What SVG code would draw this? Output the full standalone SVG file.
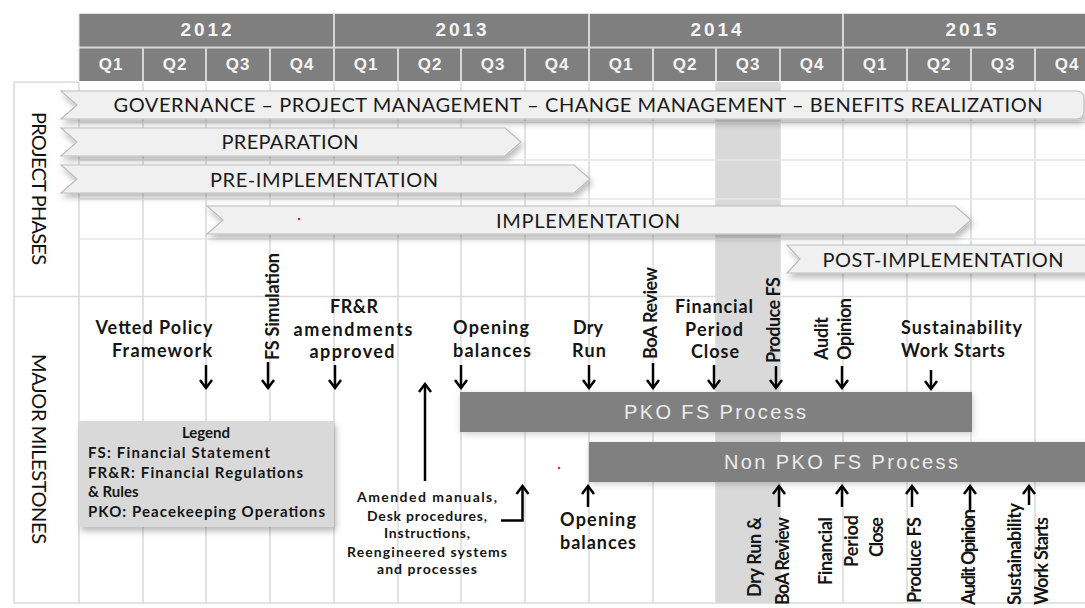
<svg xmlns="http://www.w3.org/2000/svg" width="1085" height="608" viewBox="0 0 1085 608">
  <defs>
    <style>
      .hdr { fill: #7f7f7f; }
      .hsep { stroke: #d6d6d6; stroke-width: 2; }
      .htxt { font-family: "Liberation Sans", Arial, sans-serif; font-weight: bold; fill: #f4f4f4; text-anchor: middle; }
      .grid { stroke: #dadada; stroke-width: 1.5; fill: none; }
      .bar { fill: #f0f0f0; stroke: #bdbdbd; stroke-width: 1.2; filter: url(#shadow); }
      .btxt { font-family: Lato, "Liberation Sans", sans-serif; font-size: 20px; fill: #1a1a1a; text-anchor: middle; }
      .side { font-family: Lato, "Liberation Sans", sans-serif; font-size: 20px; fill: #111; }
      .ms { font-family: Lato, "Liberation Sans", sans-serif; font-weight: bold; font-size: 18px; fill: #151515; text-anchor: middle; }
      .msl { text-anchor: start; }
      .proc { fill: #808080; filter: url(#shadow2); }
      .ptxt { font-family: "Liberation Sans", Arial, sans-serif; font-size: 20px; fill: #ececec; text-anchor: middle; }
      .arrow { stroke: #000; stroke-width: 2.5; fill: none; marker-end: url(#head); }
      .legend { fill: #d9d9d9; filter: url(#shadow); }
      .ltxt { font-family: Lato, "Liberation Sans", sans-serif; font-weight: bold; font-size: 15px; fill: #151515; }
    </style>
    <filter id="shadow" x="-5%" y="-30%" width="110%" height="170%">
      <feDropShadow dx="2" dy="4" stdDeviation="3" flood-color="#000" flood-opacity="0.28"/>
    </filter>
    <filter id="shadow2" x="-5%" y="-30%" width="110%" height="170%">
      <feDropShadow dx="1" dy="2" stdDeviation="3" flood-color="#000" flood-opacity="0.2"/>
    </filter>
    <marker id="head" viewBox="-10 -8 12 16" refX="0" refY="0" markerWidth="12" markerHeight="16" markerUnits="userSpaceOnUse" orient="auto">
      <path d="M-8,-6 L0,0 L-8,6" fill="none" stroke="#000" stroke-width="2.5" stroke-linejoin="miter"/>
    </marker>
  </defs>

  <rect x="0" y="0" width="1085" height="608" fill="#fff"/>

  <!-- highlighted quarter column (Q3 2014) -->
  <rect x="716" y="82" width="64" height="521" fill="#d9d9d9"/>

  <!-- grid -->
  <g id="grid" class="grid">
    <path d="M14,82 V603 H1085 M14,82 H79 M14,296.5 H1085"/>
    <path d="M79,82 V603 M143,82 V603 M206,82 V603 M270,82 V603 M334,82 V603 M398,82 V603 M461,82 V603 M525,82 V603 M589,82 V603 M653,82 V603 M716,82 V603 M780,82 V603 M843,82 V603 M907,82 V603 M971,82 V603 M1035,82 V603"/>
    <path d="M79,122.5 H1085 M79,160 H1085 M79,199 H1085 M79,239 H1085" stroke="#e6e6e6"/>
  </g>

  <!-- timeline header -->
  <g id="header">
    <rect class="hdr" x="79" y="14" width="1006" height="33"/>
    <rect class="hdr" x="79" y="48" width="1006" height="33"/>
    <path class="hsep" d="M79,47.5 H1085 M334,14 V81 M589,14 V81 M843,14 V81 M143,48 V81 M206,48 V81 M270,48 V81 M398,48 V81 M461,48 V81 M525,48 V81 M653,48 V81 M716,48 V81 M780,48 V81 M907,48 V81 M971,48 V81 M1035,48 V81"/>
    <path d="M79,13.5 H1085 M79,13.5 V81" stroke="#e0e0e0" stroke-width="1"/>
    <g class="htxt" font-size="19">
      <text x="206" y="36" textLength="51">2012</text>
      <text x="461" y="36" textLength="51">2013</text>
      <text x="716" y="36" textLength="51">2014</text>
      <text x="971" y="36" textLength="51">2015</text>
    </g>
    <g class="htxt" font-size="17" letter-spacing="1">
      <text x="111" y="70">Q1</text>
      <text x="175" y="70">Q2</text>
      <text x="238" y="70">Q3</text>
      <text x="302" y="70">Q4</text>
      <text x="366" y="70">Q1</text>
      <text x="430" y="70">Q2</text>
      <text x="493" y="70">Q3</text>
      <text x="557" y="70">Q4</text>
      <text x="621" y="70">Q1</text>
      <text x="685" y="70">Q2</text>
      <text x="748" y="70">Q3</text>
      <text x="812" y="70">Q4</text>
      <text x="875" y="70">Q1</text>
      <text x="939" y="70">Q2</text>
      <text x="1003" y="70">Q3</text>
      <text x="1067" y="70">Q4</text>
    </g>
  </g>

  <!-- section labels -->
  <g id="section-labels" class="side">
    <text transform="translate(32,112) rotate(90)" textLength="153">PROJECT PHASES</text>
    <text transform="translate(32,354) rotate(90)" textLength="190">MAJOR MILESTONES</text>
  </g>

  <!-- project phases -->
  <g id="phase-governance">
    <path class="bar" d="M61,91 H1076 Q1084,91 1084,99 V111 Q1084,119 1076,119 H61 L77,105 Z"/>
    <text class="btxt" x="578" y="112" textLength="929">GOVERNANCE – PROJECT MANAGEMENT – CHANGE MANAGEMENT – BENEFITS REALIZATION</text>
  </g>
  <g id="phase-preparation">
    <path class="bar" d="M61,128 H505 L521,142 L505,156 H61 L77,142 Z"/>
    <text class="btxt" x="290" y="149" textLength="137">PREPARATION</text>
  </g>
  <g id="phase-pre-implementation">
    <path class="bar" d="M61,165 H574 L590,179 L574,193 H61 L77,179 Z"/>
    <text class="btxt" x="324" y="187" textLength="228">PRE-IMPLEMENTATION</text>
  </g>
  <g id="phase-implementation">
    <path class="bar" d="M207,206 H955 L971,220 L955,234 H207 L223,220 Z"/>
    <text class="btxt" x="588" y="228" textLength="184">IMPLEMENTATION</text>
    <circle cx="299" cy="219" r="1.3" fill="#e03030"/>
  </g>
  <g id="phase-post-implementation">
    <path class="bar" d="M787,245 H1095 V273 H787 L800,259 Z"/>
    <text class="btxt" x="943" y="267" textLength="241">POST-IMPLEMENTATION</text>
  </g>

  <!-- process bands -->
  <g id="pko-fs-process">
    <rect class="proc" x="460" y="392" width="512" height="40"/>
    <text class="ptxt" x="715" y="419" textLength="182">PKO FS Process</text>
  </g>
  <g id="non-pko-fs-process">
    <rect class="proc" x="589" y="442" width="500" height="40"/>
    <text class="ptxt" x="841" y="469" textLength="234">Non PKO FS Process</text>
  </g>

  <!-- legend -->
  <g id="legend">
    <rect class="legend" x="79" y="421" width="255" height="106"/>
    <text class="ltxt" x="206" y="438" font-size="12" text-anchor="middle" textLength="48">Legend</text>
    <text class="ltxt" x="88" y="458" textLength="182">FS: Financial Statement</text>
    <text class="ltxt" x="88" y="478" textLength="215">FR&amp;R: Financial Regulations</text>
    <text class="ltxt" x="88" y="497">&amp; Rules</text>
    <text class="ltxt" x="88" y="517" textLength="237">PKO: Peacekeeping Operations</text>
  </g>

  <!-- PKO milestones (above) -->
  <g id="ms-vetted-policy" class="ms">
    <text x="154" y="334" textLength="117">Vetted Policy</text>
    <text x="162" y="357" textLength="100">Framework</text>
  </g>
  <g id="ms-fs-simulation">
    <text class="ms msl" transform="translate(279,360) rotate(-90)" textLength="107">FS Simulation</text>
  </g>
  <g id="ms-frr-amendments" class="ms">
    <text x="354" y="313" textLength="48">FR&amp;R</text>
    <text x="353" y="336" textLength="119">amendments</text>
    <text x="352" y="358" textLength="85">approved</text>
  </g>
  <g id="ms-opening-balances" class="ms">
    <text x="491" y="334" textLength="76">Opening</text>
    <text x="492" y="357" textLength="78">balances</text>
  </g>
  <g id="ms-dry-run" class="ms">
    <text x="588" y="334" textLength="30">Dry</text>
    <text x="589" y="357" textLength="34">Run</text>
  </g>
  <g id="ms-boa-review">
    <text class="ms msl" transform="translate(657,359) rotate(-90)" textLength="92">BoA Review</text>
  </g>
  <g id="ms-financial-close" class="ms">
    <text x="714" y="313" textLength="78">Financial</text>
    <text x="714" y="336" textLength="58">Period</text>
    <text x="715" y="358" textLength="48">Close</text>
  </g>
  <g id="ms-produce-fs">
    <text class="ms msl" transform="translate(780,363) rotate(-90)" textLength="86">Produce FS</text>
  </g>
  <g id="ms-audit-opinion">
    <text class="ms msl" transform="translate(828,360) rotate(-90)" textLength="43">Audit</text>
    <text class="ms msl" transform="translate(851,360) rotate(-90)" textLength="62">Opinion</text>
  </g>
  <g id="ms-sustainability" class="ms msl">
    <text x="901" y="334" textLength="121">Sustainability</text>
    <text x="901" y="357" textLength="104">Work Starts</text>
  </g>

  <!-- supporting deliverables and non-PKO milestones (below) -->
  <g id="ms-amended-manuals" class="ms">
    <text x="427" y="502" font-size="14" textLength="140">Amended  manuals,</text>
    <text x="427" y="521" font-size="14" textLength="120">Desk procedures,</text>
    <text x="427" y="538" font-size="14" textLength="86">Instructions,</text>
    <text x="427" y="557" font-size="14" textLength="160">Reengineered systems</text>
    <text x="427" y="574" font-size="14" textLength="100">and processes</text>
  </g>
  <g id="ms-opening-balances-non-pko" class="ms">
    <text x="598" y="526" textLength="76">Opening</text>
    <text x="598" y="549" textLength="76">balances</text>
    <circle cx="559" cy="468" r="1.3" fill="#e03030"/>
  </g>
  <g id="ms-dry-run-boa">
    <text class="ms msl" font-size="17" transform="translate(761,597) rotate(-90)" textLength="80">Dry Run &amp;</text>
    <text class="ms msl" font-size="17" transform="translate(789,605) rotate(-90)" textLength="88">BoA Review</text>
  </g>
  <g id="ms-financial-close-non-pko">
    <text class="ms msl" font-size="17" transform="translate(832,585) rotate(-90)" textLength="68">Financial</text>
    <text class="ms msl" font-size="17" transform="translate(858,567) rotate(-90)" textLength="52">Period</text>
    <text class="ms msl" font-size="17" transform="translate(883,557) rotate(-90)" textLength="40">Close</text>
  </g>
  <g id="ms-produce-fs-non-pko">
    <text class="ms msl" font-size="17" transform="translate(921,603) rotate(-90)" textLength="86">Produce FS</text>
  </g>
  <g id="ms-audit-opinion-non-pko">
    <text class="ms msl" font-size="17" transform="translate(975,605) rotate(-90)" textLength="96">Audit Opinion</text>
  </g>
  <g id="ms-sustainability-non-pko">
    <text class="ms msl" font-size="17" transform="translate(1021,605) rotate(-90)" textLength="102">Sustainability</text>
    <text class="ms msl" font-size="17" transform="translate(1048,605) rotate(-90)" textLength="88">Work Starts</text>
  </g>

  <!-- connectors -->
  <g id="connectors" class="arrow">
    <path d="M206,365 V388"/>
    <path d="M268,362 V388"/>
    <path d="M335,365 V388"/>
    <path d="M425,481 V384"/>
    <path d="M461,365 V388"/>
    <path d="M589,365 V388"/>
    <path d="M653,363 V388"/>
    <path d="M714,365 V388"/>
    <path d="M776,366 V388"/>
    <path d="M842,366 V388"/>
    <path d="M931,370 V389"/>
    <path d="M501,520.5 H522.5 V486"/>
    <path d="M588,507 V486"/>
    <path d="M779,507 V486"/>
    <path d="M842,507 V486"/>
    <path d="M912,507 V486"/>
    <path d="M970,510 V486"/>
    <path d="M1029,505 V486"/>
  </g>
</svg>
